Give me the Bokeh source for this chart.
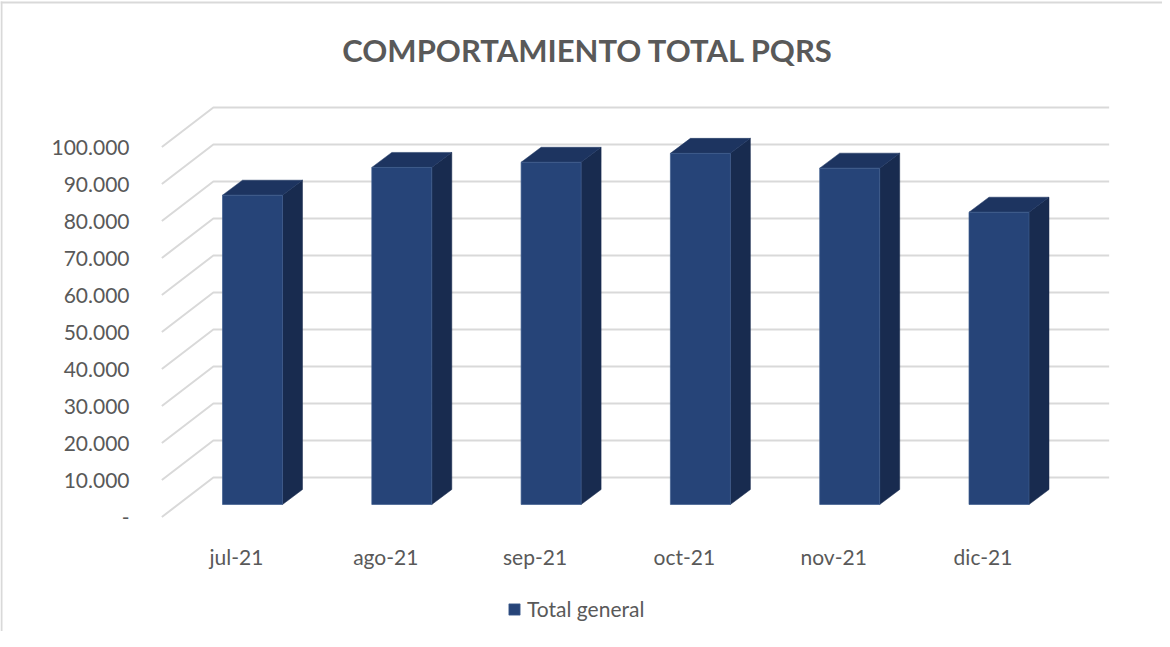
from bokeh.plotting import figure
from bokeh.models import LinearAxis, FixedTicker, Label, Legend, LegendItem
from bokeh.embed import file_html
from bokeh.resources import INLINE

# ---- data ----
categories = ["jul-21", "ago-21", "sep-21", "oct-21", "nov-21", "dic-21"]
values = [83600, 91100, 92500, 94900, 90900, 79000]
y_ticks = [0, 10000, 20000, 30000, 40000, 50000, 60000, 70000, 80000, 90000, 100000]
y_labels = ["-", "10.000", "20.000", "30.000", "40.000", "50.000", "60.000", "70.000", "80.000", "90.000", "100.000"]
title_text = "COMPORTAMIENTO TOTAL PQRS"
series_name = "Total general"

# ---- styling / 3-D projection constants ----
W, H = 1162, 631
PX_X = 149.3            # px per category
PX_Y = 37.0 / 10000     # px per value unit
X0_PX, Y0_PX = 244 - 8, 524.5 - 8  # category 0 centre, front-floor zero, in frame px
px = lambda d: d / PX_X
py = lambda d: d / PX_Y
FONT = "Lato"
TXT = "#595959"
GRID = "#d9d9d9"
FRONT, TOP, SIDE = "#264478", "#1d3460", "#182b4f"

x_range = (-X0_PX / PX_X, (W - X0_PX) / PX_X)
y_range = (-(H - Y0_PX) / PX_Y, Y0_PX / PX_Y)

p = figure(width=W, height=H, x_range=x_range, y_range=y_range,
           output_backend="svg", toolbar_location=None,
           x_axis_location=None, y_axis_location=None, min_border=0)
p.grid.visible = False
p.outline_line_color = None

n = len(categories)
wall_l, wall_r = -0.5, n - 0.5
wall_dx, wall_dy = px(51.5), py(39.5)

# chart-area border (top and left)
p.line([x_range[0] + px(1), x_range[0] + px(1)], [y_range[0], y_range[1] - py(1)], line_color=GRID, line_width=2)
p.line([x_range[0], x_range[1]], [y_range[1] - py(2), y_range[1] - py(2)], line_color=GRID, line_width=2)

# gridlines: floor-side diagonal + back wall
for t in y_ticks:
    p.line([wall_l, wall_l + wall_dx, wall_r + wall_dx], [t, t + wall_dy, t + wall_dy],
           line_color=GRID, line_width=2)

# 3-D bars
bar_off, bar_w = px(16 - 30), px(60)
base = py(12.5)
dx, dy = px(20), py(15)
lefts = [i + px(16) - bar_w / 2 for i in range(n)]
rights = [l + bar_w for l in lefts]
tops = [v + base for v in values]
p.patches([[r, r + dx, r + dx, r] for r in rights],
          [[base, base + dy, t + dy, t] for t in tops],
          fill_color=SIDE, line_color=SIDE, line_width=0.5)
p.patches([[l, l + dx, r + dx, r] for l, r in zip(lefts, rights)],
          [[t, t + dy, t + dy, t] for t in tops],
          fill_color=TOP, line_color=TOP, line_width=0.5)
front = p.quad(left=lefts, right=rights, bottom=base, top=tops,
               fill_color=FRONT, line_color="#3d5c8e", line_width=0.7)

# axes drawn at fixed positions in the frame
ya = LinearAxis(fixed_location=(146 - 8 - X0_PX) / PX_X)
ya.ticker = FixedTicker(ticks=y_ticks)
ya.major_label_overrides = dict(zip(y_ticks, y_labels))
xa = LinearAxis(fixed_location=-py(18))
xa.ticker = FixedTicker(ticks=list(range(n)))
xa.major_label_overrides = dict(zip(range(n), categories))
for a, side in ((ya, "left"), (xa, "below")):
    a.axis_line_color = None
    a.major_tick_line_color = None
    a.minor_tick_line_color = None
    a.major_label_text_color = TXT
    a.major_label_text_font = FONT
    a.major_label_text_font_size = "21px"
    a.major_label_standoff = 3
    p.add_layout(a, side)

p.add_layout(Label(x=(595.5 - 8 - X0_PX) / PX_X, y=(Y0_PX - (57 - 8)) / PX_Y, text=title_text,
                   text_align="center", text_baseline="middle", text_color=TXT,
                   text_font=FONT, text_font_style="bold", text_font_size="31px"))

legend = Legend(items=[LegendItem(label=series_name, renderers=[front])],
                location=(525 - 8 - 10, H - (612 - 8) - 17),
                border_line_color=None, background_fill_alpha=0,
                glyph_width=14, glyph_height=14, label_standoff=6,
                label_text_color=TXT, label_text_font=FONT, label_text_font_size="21px",
                margin=0, padding=8)
p.add_layout(legend, "center")

open("out.html", "w").write(file_html(p, INLINE))
